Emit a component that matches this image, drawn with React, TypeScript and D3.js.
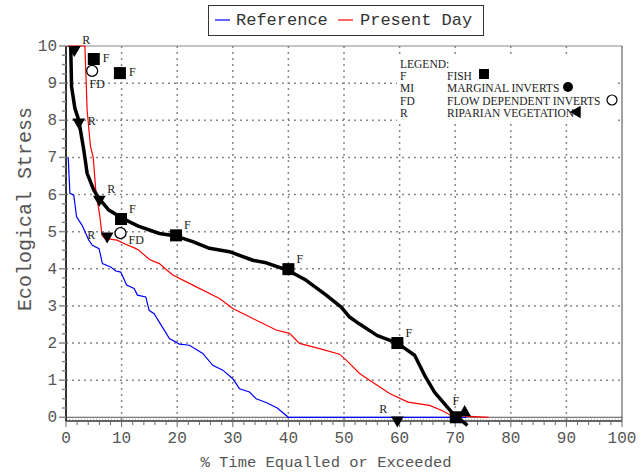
import React from "react";
import * as d3 from "d3";

// Reference series (% time, stress)
const refPct = [0.4, 0.7, 1.4, 1.9, 2.9, 4.1, 4.74, 5.95, 6.55, 8.05, 8.95, 9.85, 10.9, 12.25, 12.85, 14.35, 14.95, 15.85, 16.75, 18.6, 20.4, 22.2, 24.6, 26.4, 28.2, 30, 31.2, 33, 34.2, 36, 38, 40, 72];
const refStress = [7.0, 6.03, 5.98, 5.4, 5.17, 4.77, 4.63, 4.54, 4.14, 4.05, 3.94, 3.91, 3.56, 3.47, 3.29, 3.24, 2.88, 2.79, 2.57, 2.12, 1.97, 1.94, 1.72, 1.4, 1.27, 1.04, 0.77, 0.68, 0.5, 0.4, 0.25, 0, 0];

// Present day series
const presPct = [0.2, 3.4, 3.66, 3.8, 4.4, 4.9, 5.35, 6.1, 6.4, 6.5, 7.0, 9.2, 10.4, 12.5, 13.1, 15, 16.8, 18, 19.2, 22.8, 27.6, 30, 33.6, 37.8, 40.2, 42, 45.6, 49.2, 50.4, 52.8, 54.6, 58.2, 61.5, 65.4, 67.5, 69.3, 76];
const presStress = [10, 10, 8.9, 8.27, 7.3, 7.0, 6.12, 5.4, 5.0, 4.9, 4.82, 4.77, 4.68, 4.55, 4.5, 4.25, 4.14, 3.98, 3.83, 3.56, 3.2, 2.93, 2.66, 2.35, 2.26, 1.99, 1.85, 1.7, 1.54, 1.18, 1.0, 0.64, 0.41, 0.32, 0.19, 0.05, 0];

// Thick black curve
const curvePct = [0.85, 1.0, 1.6, 2.3, 3.2, 3.8, 5.0, 5.9, 7.7, 10.1, 13, 16.8, 19.8, 22.8, 25.8, 29.4, 33.6, 36, 39.9, 43.2, 46.8, 49.5, 51, 52.8, 56, 59.6, 61, 62.7, 64.5, 66.3, 67.5, 69.6, 72.2];
const curveStress = [10, 8.9, 8.32, 8.0, 7.2, 6.57, 6.12, 5.9, 5.58, 5.36, 5.15, 4.95, 4.88, 4.73, 4.55, 4.46, 4.23, 4.16, 3.96, 3.69, 3.29, 2.97, 2.7, 2.51, 2.2, 2.0, 1.85, 1.67, 1.13, 0.67, 0.46, 0.1, -0.22];

// Markers
const fishPct = [5.0, 9.7, 9.9, 19.8, 40, 59.6, 70.1];
const fishStress = [9.65, 9.27, 5.34, 4.9, 3.99, 2.0, 0.0];
const fishLabelPos = ["e", "e", "ne", "ne", "ne", "ne", "n"];
const fdPct = [4.7, 9.8];
const fdStress = [9.33, 4.96];
const fdLabelPos = ["s", "se"];
const ripPct = [1.5, 2.3, 6.0, 7.4, 59.6, 71.7];
const ripStress = [9.9, 7.95, 5.87, 4.88, -0.08, 0.13];
const ripDir = ["down", "down", "down", "down", "down", "up"];
const ripLabelPos = ["ne", "e", "ne", "w", "nw", ""];

const xTicks = [0, 10, 20, 30, 40, 50, 60, 70, 80, 90, 100];
const yTicks = [0, 1, 2, 3, 4, 5, 6, 7, 8, 9, 10];

const legendCodes = ["F", "MI", "FD", "R"];
const legendNames = ["FISH", "MARGINAL INVERTS", "FLOW DEPENDENT INVERTS", "RIPARIAN VEGETATION"];

const W = 642, H = 476;
const L = 66, R = 622, T = 46, B = 421;

export default function App() {
  const x = d3.scaleLinear().domain([0, 100]).range([L, R]);
  const y = d3.scaleLinear().domain([-0.1, 10]).range([B, T]);
  const line = d3.line<[number, number]>().x(d => x(d[0])).y(d => y(d[1]));
  const zip = (a: number[], b: number[]) => a.map((v, i) => [v, b[i]] as [number, number]);

  const mono = "'Liberation Mono', 'DejaVu Sans Mono', monospace";
  const serif = "'Liberation Serif', 'DejaVu Serif', serif";
  const grid = "#888";
  const axisText = "#555";

  const xMinor = d3.range(0, 100.01, 2);
  const yMinor = d3.range(0, 10.01, 0.25);

  const tri = d3.symbol().type(d3.symbolTriangle).size(70)();

  const labelOffset = (pos: string) => {
    switch (pos) {
      case "e": return [9, 3, "start"];
      case "ne": return [8, -6, "start"];
      case "n": return [0, -12, "middle"];
      case "s": return [5, 17, "middle"];
      case "se": return [8, 11, "start"];
      case "w": return [-12, 3, "end"];
      case "nw": return [-10, -7, "end"];
      default: return [0, 0, "start"];
    }
  };

  return (
    <svg width={W} height={H} style={{ display: "block", position: "absolute", left: 0, top: 0 }}>
      <rect x={0} y={0} width={W} height={H} fill="#fff" />
      {/* gridlines */}
      {xTicks.filter(t => t > 0 && t < 100).map(t => (
        <line key={"gx" + t} x1={x(t)} x2={x(t)} y1={T} y2={B} stroke={grid} strokeWidth={1.5} strokeDasharray="2,4" />
      ))}
      {yTicks.filter(t => t > 0 && t < 10).map(t => (
        <line key={"gy" + t} x1={L} x2={R} y1={y(t)} y2={y(t)} stroke={grid} strokeWidth={1.5} strokeDasharray="2,4" />
      ))}
      <line x1={L} x2={R} y1={y(0)} y2={y(0)} stroke="#555" strokeWidth={1} />
      <line x1={L} x2={R} y1={y(0) + 2} y2={y(0) + 2} stroke="#aaa" strokeWidth={1} strokeDasharray="1,2" />
      {/* frame */}
      <line x1={L} x2={R} y1={T} y2={T} stroke="#888" strokeWidth={1} />
      <line x1={R} x2={R} y1={T} y2={B} stroke="#444" strokeWidth={1} />
      <line x1={L} x2={R} y1={B} y2={B} stroke="#333" strokeWidth={1.5} />
      <line x1={L} x2={L} y1={T} y2={B} stroke="#333" strokeWidth={2} />
      {/* ticks */}
      {xMinor.map(t => (
        <line key={"xm" + t} x1={x(t)} x2={x(t)} y1={B} y2={B + (t % 10 === 0 ? 6 : 4)} stroke="#666" strokeWidth={1} />
      ))}
      {yMinor.map(t => (
        <line key={"ym" + t} x1={L - (t % 1 === 0 ? 7 : 4)} x2={L} y1={y(t)} y2={y(t)} stroke="#888" strokeWidth={1.5} />
      ))}
      {xTicks.map(t => (
        <text key={"xl" + t} x={x(t)} y={443} textAnchor="middle" fontFamily={mono} fontSize={16} fill={axisText}>{t}</text>
      ))}
      {yTicks.map(t => (
        <text key={"yl" + t} x={57} y={y(t) + 5} textAnchor="end" fontFamily={mono} fontSize={16} fill={axisText}>{t}</text>
      ))}
      <text x={326} y={467} textAnchor="middle" fontFamily={mono} fontSize={15.5} fill={axisText}>% Time Equalled or Exceeded</text>
      <text transform="translate(31,209) rotate(-90)" textAnchor="middle" fontFamily={mono} fontSize={20} fill={axisText}>Ecological Stress</text>

      {/* series */}
      <path d={line(zip(refPct, refStress)) || ""} fill="none" stroke="#0000ff" strokeWidth={1.2} />
      <path d={line(zip(presPct, presStress)) || ""} fill="none" stroke="#ff0000" strokeWidth={1.2} />
      <path d={line(zip(curvePct, curveStress)) || ""} fill="none" stroke="#000" strokeWidth={3.5} strokeLinejoin="round" />

      {/* markers */}
      {fishPct.map((p, i) => {
        const cx = x(p), cy = y(fishStress[i]);
        const [dx, dy, anc] = labelOffset(fishLabelPos[i]) as [number, number, string];
        return (
          <g key={"f" + i}>
            <rect x={cx - 6} y={cy - 6} width={12} height={12} fill="#000" />
            <text x={cx + dx} y={cy + dy} textAnchor={anc as any} fontFamily={serif} fontSize={12} fill="#222">F</text>
          </g>
        );
      })}
      {fdPct.map((p, i) => {
        const cx = x(p), cy = y(fdStress[i]);
        const [dx, dy, anc] = labelOffset(fdLabelPos[i]) as [number, number, string];
        return (
          <g key={"fd" + i}>
            <circle cx={cx} cy={cy} r={5.5} fill="#fff" stroke="#000" strokeWidth={1.3} />
            <text x={cx + dx} y={cy + dy} textAnchor={anc as any} fontFamily={serif} fontSize={12} fill="#222">FD</text>
          </g>
        );
      })}
      {ripPct.map((p, i) => {
        const cx = x(p), cy = y(ripStress[i]);
        const [dx, dy, anc] = labelOffset(ripLabelPos[i]) as [number, number, string];
        return (
          <g key={"r" + i}>
            <path d={tri || ""} transform={`translate(${cx},${cy}) rotate(${ripDir[i] === "down" ? 180 : 0})`} fill="#000" />
            {ripLabelPos[i] && (
              <text x={cx + dx} y={cy + dy} textAnchor={anc as any} fontFamily={serif} fontSize={12} fill="#222">R</text>
            )}
          </g>
        );
      })}

      {/* in-chart legend */}
      <rect x={397} y={54} width={220} height={68} fill="#fff" />
      <text x={400} y={68} fontFamily={serif} fontSize={11.5} fill="#222">LEGEND:</text>
      {legendCodes.map((c, i) => (
        <g key={"lg" + i}>
          <text x={400} y={80 + i * 12.3} fontFamily={serif} fontSize={11.5} fill="#222">{c}</text>
          <text x={447} y={80 + i * 12.3} fontFamily={serif} fontSize={11.5} fill="#222">{legendNames[i]}</text>
        </g>
      ))}
      <rect x={479} y={69} width={10} height={10} fill="#000" />
      <circle cx={568} cy={87} r={5} fill="#000" />
      <circle cx={612} cy={100} r={5} fill="#fff" stroke="#000" strokeWidth={1.2} />
      <path d={tri || ""} transform={`translate(577,112) rotate(-90)`} fill="#000" />

      {/* top legend */}
      <rect x={208.5} y={5.5} width={275} height={30} fill="#fff" stroke="#333" strokeWidth={1} />
      <line x1={215} x2={230} y1={20} y2={20} stroke="#0000ff" strokeWidth={1.2} />
      <text x={236} y={25} fontFamily={mono} fontSize={17} fill="#333">Reference</text>
      <line x1={338} x2={353} y1={20} y2={20} stroke="#ff0000" strokeWidth={1.2} />
      <text x={360} y={25} fontFamily={mono} fontSize={17} fill="#333">Present Day</text>
    </svg>
  );
}
